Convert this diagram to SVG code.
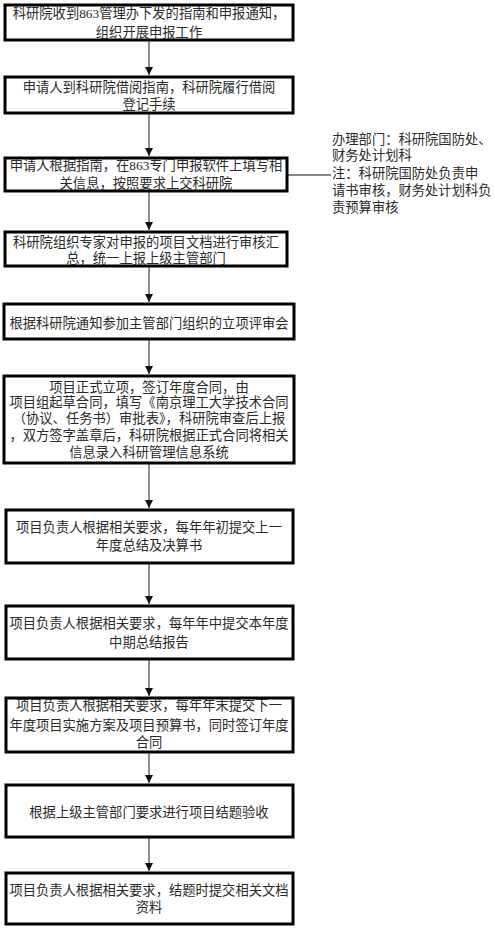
<svg xmlns="http://www.w3.org/2000/svg" width="495" height="931" viewBox="0 0 495 931">
<style>
.box{fill:#fff;stroke:#000;stroke-width:3}
text{font-family:"Liberation Serif","Noto Sans CJK SC",serif;font-size:13.3px;fill:#2a2a2a}
.c{text-anchor:middle}
.ln{stroke:#444;stroke-width:1.2;fill:none}
</style>
<defs>
<marker id="ah" viewBox="0 0 8 8" refX="8" refY="4" markerWidth="8" markerHeight="8" markerUnits="userSpaceOnUse" orient="auto">
<path d="M0,0 L8,4 L0,8 z" fill="#111"/>
</marker>
</defs>
<rect width="495" height="931" fill="#fff"/>
<g id="connectors">
<line class="ln" x1="149" y1="41" x2="149" y2="75" marker-end="url(#ah)"/>
<line class="ln" x1="149" y1="114" x2="149" y2="156" marker-end="url(#ah)"/>
<line class="ln" x1="149" y1="192" x2="149" y2="230" marker-end="url(#ah)"/>
<line class="ln" x1="149" y1="267" x2="149" y2="302" marker-end="url(#ah)"/>
<line class="ln" x1="149" y1="340" x2="149" y2="374" marker-end="url(#ah)"/>
<line class="ln" x1="149" y1="464" x2="149" y2="508" marker-end="url(#ah)"/>
<line class="ln" x1="149" y1="564" x2="149" y2="604" marker-end="url(#ah)"/>
<line class="ln" x1="149" y1="660" x2="149" y2="696" marker-end="url(#ah)"/>
<line class="ln" x1="149" y1="753" x2="149" y2="783" marker-end="url(#ah)"/>
<line class="ln" x1="149" y1="838" x2="149" y2="871" marker-end="url(#ah)"/>
<line x1="288" y1="175" x2="331" y2="175" stroke="#111" stroke-width="1.2"/>
</g>
<g id="n1"><rect class="box" x="5" y="5" width="288" height="35"/>
<text class="c" x="149" y="18">科研院收到863管理办下发的指南和申报通知，</text>
<text class="c" x="149" y="37">组织开展申报工作</text></g>
<g id="n2"><rect class="box" x="5" y="77" width="288" height="36"/>
<text class="c" x="149" y="92">申请人到科研院借阅指南，科研院履行借阅</text>
<text class="c" x="149" y="109">登记手续</text></g>
<g id="n3"><rect class="box" x="5" y="158" width="282" height="33"/>
<text class="c" x="146" y="170">申请人根据指南，在863专门申报软件上填写相</text>
<text class="c" x="146" y="188">关信息，按照要求上交科研院</text></g>
<g id="n4"><rect class="box" x="5" y="232" width="282" height="34"/>
<text class="c" x="146" y="247">科研院组织专家对申报的项目文档进行审核汇</text>
<text class="c" x="146" y="263">总，统一上报上级主管部门</text></g>
<g id="n5"><rect class="box" x="4" y="304" width="290" height="35"/>
<text class="c" x="149" y="328">根据科研院通知参加主管部门组织的立项评审会</text></g>
<g id="n6"><rect class="box" x="4" y="376" width="290" height="87"/>
<text class="c" x="149" y="392">项目正式立项，签订年度合同，由</text>
<text class="c" x="149" y="407">项目组起草合同，填写《南京理工大学技术合同</text>
<text class="c" x="149" y="423">（协议、任务书）审批表》，科研院审查后上报</text>
<text class="c" x="149" y="440">，双方签字盖章后，科研院根据正式合同将相关</text>
<text class="c" x="149" y="457">信息录入科研管理信息系统</text></g>
<g id="n7"><rect class="box" x="6" y="510" width="287" height="53"/>
<text class="c" x="149" y="532">项目负责人根据相关要求，每年年初提交上一</text>
<text class="c" x="149" y="550">年度总结及决算书</text></g>
<g id="n8"><rect class="box" x="6" y="606" width="287" height="53"/>
<text class="c" x="149" y="628">项目负责人根据相关要求，每年年中提交本年度</text>
<text class="c" x="149" y="647">中期总结报告</text></g>
<g id="n9"><rect class="box" x="6" y="698" width="287" height="54"/>
<text class="c" x="149" y="710">项目负责人根据相关要求，每年年末提交下一</text>
<text class="c" x="149" y="730">年度项目实施方案及项目预算书，同时签订年度</text>
<text class="c" x="149" y="747">合同</text></g>
<g id="n10"><rect class="box" x="6" y="785" width="287" height="52"/>
<text class="c" x="149" y="817">根据上级主管部门要求进行项目结题验收</text></g>
<g id="n11"><rect class="box" x="6" y="873" width="287" height="51"/>
<text class="c" x="149" y="895">项目负责人根据相关要求，结题时提交相关文档</text>
<text class="c" x="149" y="912">资料</text></g>
<g id="note">
<text x="332" y="144">办理部门：科研院国防处、</text>
<text x="332" y="160">财务处计划科</text>
<text x="332" y="178">注：科研院国防处负责申</text>
<text x="332" y="195">请书审核，财务处计划科负</text>
<text x="332" y="212">责预算审核</text>
</g>
</svg>
